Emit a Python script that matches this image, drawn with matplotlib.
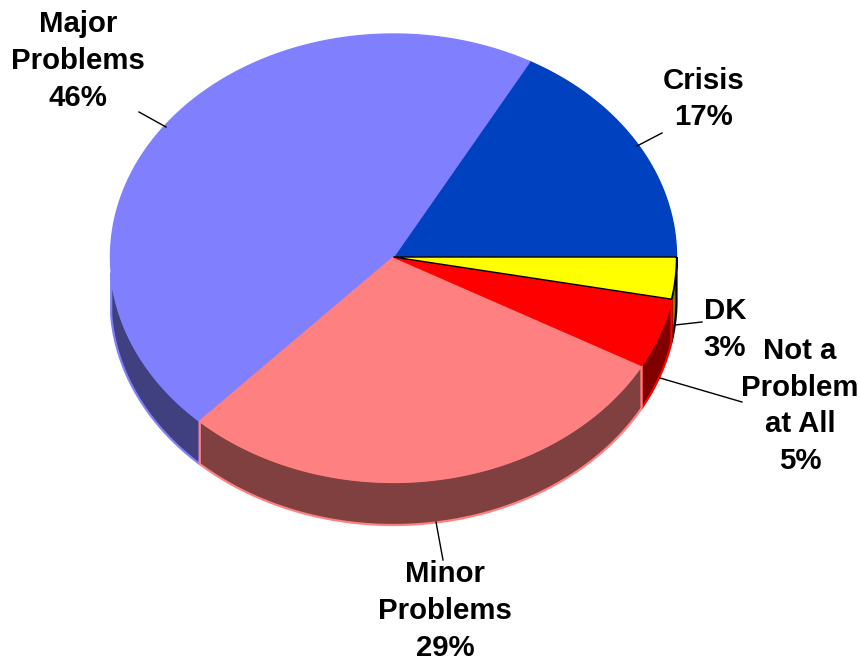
import numpy as np
import matplotlib
matplotlib.use("Agg")
import matplotlib.pyplot as plt

plt.rcParams['font.family'] = ['Liberation Sans', 'DejaVu Sans']

# slices, counter clockwise from 3 o'clock
labels = ["Crisis", "Major\nProblems", "Minor\nProblems", "Not a\nProblem\nat All", "DK"]
values = [17, 46, 29, 5, 3]
top_colors = ["#0041C0", "#8080FF", "#FF8080", "#FF0000", "#FFFF00"]
side_colors = ["#002060", "#404080", "#804040", "#800000", "#808000"]
edge_colors = ["#0041C0", "#8080FF", "#FF8080", "#FF0000", "#000000"]

W, H = 860, 663
CX, CY = 393.5, 257
RX = 283
RY_BACK, RY_FRONT = 223, 225  # the back half looks a little flatter
DEPTH = 43
WALL_START = 184  # wall is hidden behind the rim before this angle

fig = plt.figure(figsize=(W / 100, H / 100), dpi=100)
ax = fig.add_axes([0, 0, 1, 1])
ax.set_xlim(0, W)
ax.set_ylim(H, 0)
ax.axis("off")


def rim(a0, a1):
    t = np.radians(np.linspace(a0, a1, 200))
    s = np.sin(t)
    return CX + RX * np.cos(t), CY - np.where(s > 0, RY_BACK, RY_FRONT) * s


edges = np.concatenate([[0], np.cumsum(values)]) * 360 / sum(values)

# side wall, only the part of the rim facing the viewer
# minor problems goes last, its pink edge sits on top of both neighbours
for i in [4, 3, 1, 2]:
    a0, a1 = max(edges[i], WALL_START), max(edges[i + 1], WALL_START)
    if a1 <= a0:
        continue
    x, y = rim(a0, a1)
    xs = np.concatenate([x, x[::-1]])
    ys = np.concatenate([y, (y + DEPTH)[::-1]])
    ax.fill(xs, ys, facecolor=side_colors[i], edgecolor=edge_colors[i], lw=1.6, zorder=2)

# top face
for i in range(len(values)):
    x, y = rim(edges[i], edges[i + 1])
    xs = np.concatenate([[CX], x])
    ys = np.concatenate([[CY], y])
    ax.fill(xs, ys, facecolor=top_colors[i], edgecolor=edge_colors[i], lw=1.0, zorder=3)

# labels: text centre and leader line, pixels
label_pos = [(704, 99), (78, 61), (445, 611), (800, 406), (725, 329.5)]
leaders = [((662, 133), (637, 146)),
           ((139, 112), (166, 127)),
           ((436, 522), (443, 560)),
           ((660, 378), (742, 402)),
           ((675, 325), (702, 322))]

for i in range(len(values)):
    txt = "%s\n%d%%" % (labels[i], values[i])
    ax.text(label_pos[i][0], label_pos[i][1], txt, ha="center", va="center",
            fontsize=21.2, fontweight="bold", color="black", linespacing=1.39, zorder=6)
    p, q = leaders[i]
    ax.plot([p[0], q[0]], [p[1], q[1]], color="black", lw=1.0, zorder=5)

fig.savefig("out.png", dpi=100)
